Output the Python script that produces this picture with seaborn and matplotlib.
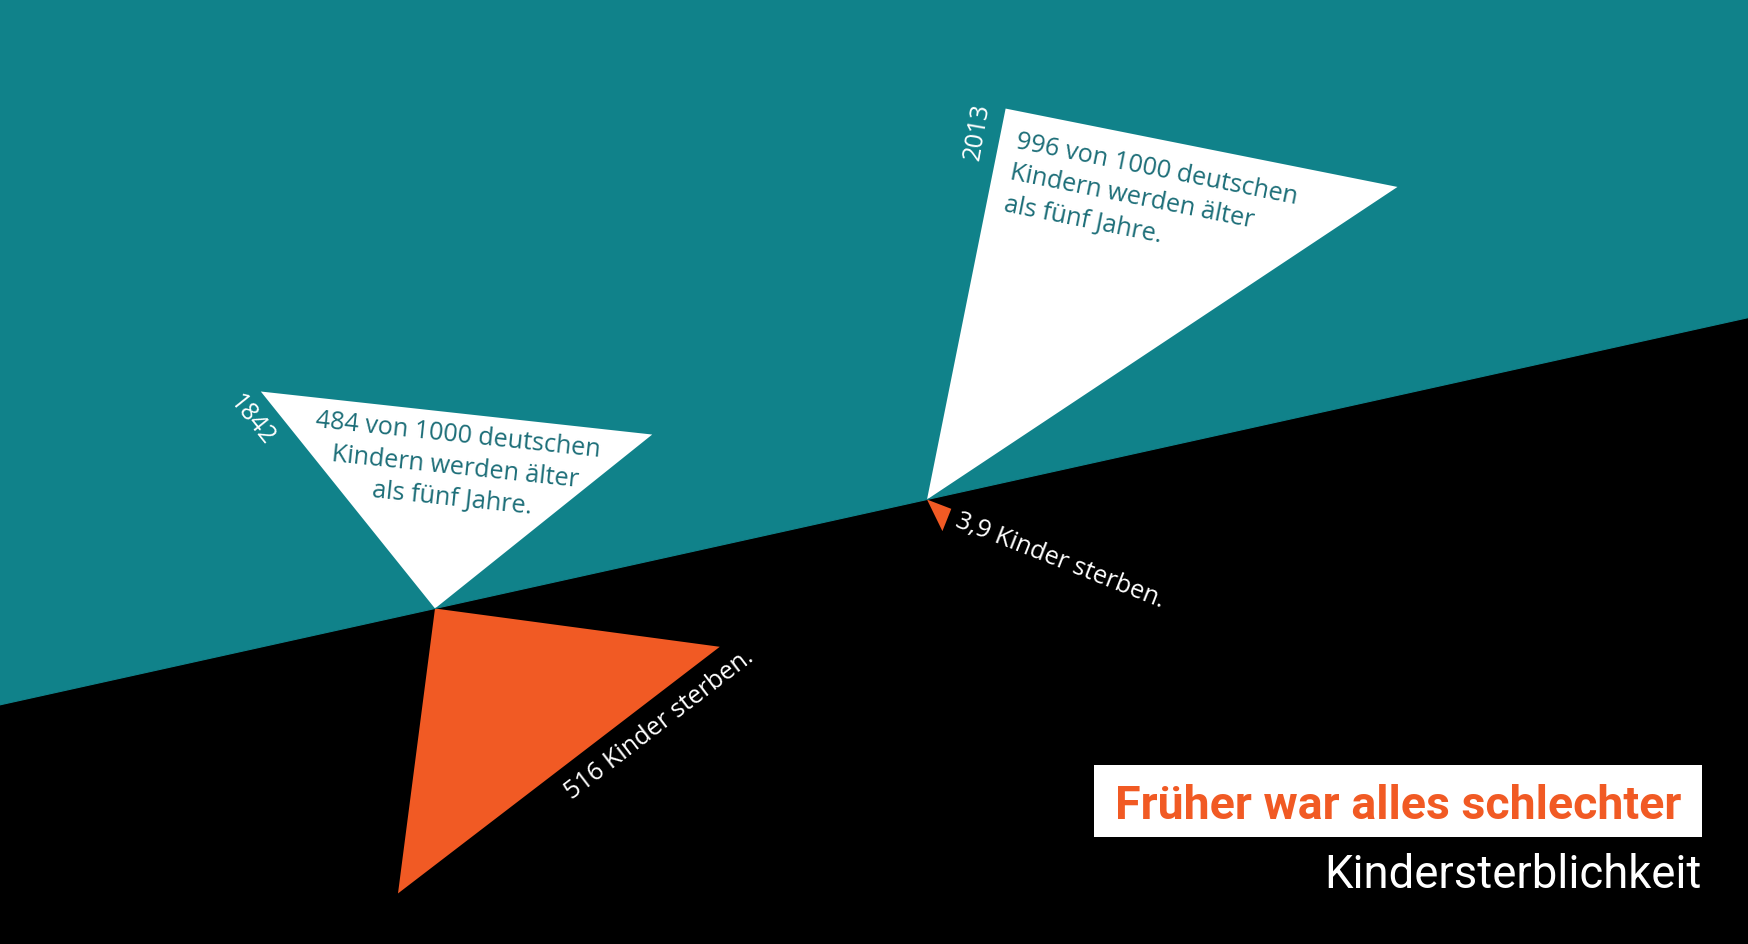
import numpy as np
import pandas as pd
import matplotlib
matplotlib.use("Agg")
import matplotlib.pyplot as plt
import seaborn as sns

# data: Kindersterblichkeit in Deutschland, je 1000 Kinder
years = [1842, 2013]
survivors = [484, 996]      # werden älter als fünf Jahre
deaths = [516, 3.9]         # sterben vor dem fünften Geburtstag
title = "Früher war alles schlechter"
subtitle = "Kindersterblichkeit"

TEAL = "#10828a"
ORANGE = "#f15a24"
DARK_TEAL = "#1d6e78"
W, H = 1748, 945
K = 80.0  # px^2 per child

sns.set_style("white")
plt.rcParams["font.family"] = ["Open Sans", "DejaVu Sans"]

fig = plt.figure(figsize=(W / 100, H / 100), dpi=100)
ax = fig.add_axes([0, 0, 1, 1])
ax.set_xlim(0, W)
ax.set_ylim(0, H)
ax.set_aspect("equal")
ax.axis("off")
fig.patch.set_facecolor("black")


# timeline layout: year -> x, baseline slopes upward
def x_of(year):
    return 435 + (year - 1842) * (927 - 435) / (2013 - 1842)


def y_of(x):
    return 335.5 + 0.2215 * (x - 435)


# background: teal above the diagonal, black below
edge = pd.DataFrame({"x": [0, W]})
edge["y"] = y_of(edge["x"])
ax.fill_between(edge["x"], edge["y"], H, color=TEAL, lw=0)
sns.lineplot(data=edge, x="x", y="y", color=TEAL, lw=0.8, ax=ax)


# triangle with area proportional to value, shape given by leg angles
def triangle(anchor, value, a1, a2, ratio):
    s = abs(np.sin(np.radians(a2 - a1)))
    l1 = np.sqrt(2 * K * value / (ratio * s))
    l2 = ratio * l1
    p1 = anchor + l1 * np.array([np.cos(np.radians(a1)), np.sin(np.radians(a1))])
    p2 = anchor + l2 * np.array([np.cos(np.radians(a2)), np.sin(np.radians(a2))])
    return np.array([anchor, p1, p2])


shapes_up = [(128.76, 38.69, 1.0), (78.63, 33.6, 1.4165)]
shapes_down = [(-7.66, -97.4, 1.0), (-21.0, -64.0, 1.351)]

for i, yr in enumerate(years):
    x = x_of(yr)
    anchor = np.array([x, y_of(x)])
    up = triangle(anchor, survivors[i], *shapes_up[i])
    dn = triangle(anchor, deaths[i], *shapes_down[i])
    ax.fill(up[:, 0], up[:, 1], color="white", lw=0)
    ax.fill(dn[:, 0], dn[:, 1], color=ORANGE, lw=0)

# labels
fmt = lambda v: f"{v:g}".replace(".", ",")
a0 = np.array([x_of(years[0]), y_of(x_of(years[0]))])
a1 = np.array([x_of(years[1]), y_of(x_of(years[1]))])
FS = 18.2

ax.text(*(a0 + [20, 142]),
        f"{survivors[0]} von 1000 deutschen\nKindern werden älter\nals fünf Jahre.",
        color=DARK_TEAL, fontsize=FS, rotation=-6, rotation_mode="anchor",
        ha="center", va="center", multialignment="center", linespacing=1.36)
ax.text(*(a0 + [-183, 189]), str(years[0]), color="white", fontsize=18,
        rotation=-51.2, rotation_mode="anchor", ha="center", va="center")
ax.text(*(a0 + [224, -115]), f"{fmt(deaths[0])} Kinder sterben.", color="white",
        fontsize=FS, rotation=37.5, rotation_mode="anchor", ha="center", va="center")

ax.text(*(a1 + [92, 371]),
        f"{survivors[1]} von 1000 deutschen\nKindern werden älter\nals fünf Jahre.",
        color=DARK_TEAL, fontsize=FS, rotation=-11.3, rotation_mode="anchor",
        ha="left", va="top", multialignment="left", linespacing=1.36)
ax.text(*(a1 + [50, 368.8]), str(years[1]), color="white", fontsize=18,
        rotation=80, rotation_mode="anchor", ha="center", va="center")
ax.text(*(a1 + [132.6, -60.8]), f"{fmt(deaths[1])} Kinder sterben.", color="white",
        fontsize=FS, rotation=-21.5, rotation_mode="anchor", ha="center", va="center")

# title box
ax.add_patch(plt.Rectangle((1093.6, 106.7), 1702.3 - 1093.6, 179.1 - 106.7,
                           color="white", lw=0))
narrow = ["Liberation Sans Narrow", "Roboto", "DejaVu Sans"]
t1 = ax.text(1398, 125.6, title, color=ORANGE, fontsize=36, fontweight="bold",
             family=narrow, ha="center", va="baseline")
t2 = ax.text(1702, 56.5, subtitle, color="white", fontsize=36,
             family=narrow, ha="right", va="baseline")

# fit title widths to the box
fig.canvas.draw()
r = fig.canvas.get_renderer()
for t, target in [(t1, 566), (t2, 378)]:
    w = t.get_window_extent(r).width
    t.set_fontsize(t.get_fontsize() * target / w)

fig.savefig("out.png", dpi=100, facecolor="black")
